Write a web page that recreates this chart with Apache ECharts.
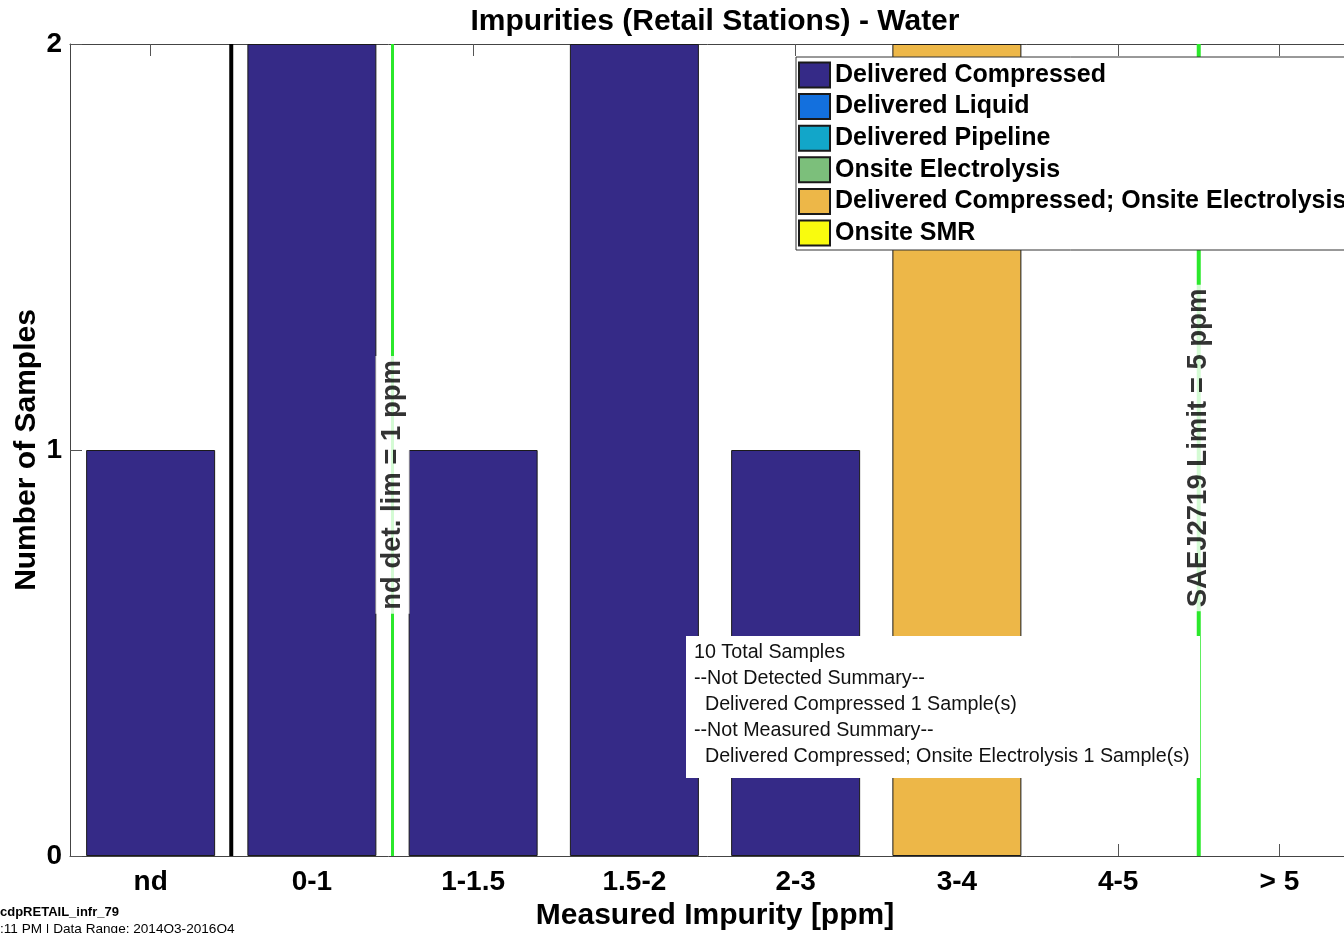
<!DOCTYPE html>
<html><head><meta charset="utf-8">
<script src="https://cdn.jsdelivr.net/npm/echarts@6/dist/echarts.min.js"></script>
<style>html,body{margin:0;padding:0;background:#fff}#c{width:1344px;height:933px}</style>
</head><body><div id="c"></div>
<script>
const categories = ['nd','0-1','1-1.5','1.5-2','2-3','3-4','4-5','> 5'];
const seriesNames = ['Delivered Compressed','Delivered Liquid','Delivered Pipeline','Onsite Electrolysis','Delivered Compressed; Onsite Electrolysis','Onsite SMR'];
const seriesColors = ['#352A87','#1370DE','#12A6C9','#7CBF7B','#EDB748','#F9FB0E'];
const deliveredCompressed = [1,2,1,2,1,0,0,0];
const deliveredLiquid = [0,0,0,0,0,0,0,0];
const deliveredPipeline = [0,0,0,0,0,0,0,0];
const onsiteElectrolysis = [0,0,0,0,0,0,0,0];
const compressedElectrolysis = [0,0,0,0,0,2,0,0];
const onsiteSMR = [0,0,0,0,0,0,0,0];
const yTicks = [0,1,2];
const summaryLines = ['10 Total Samples','--Not Detected Summary--','  Delivered Compressed 1 Sample(s)','--Not Measured Summary--','  Delivered Compressed; Onsite Electrolysis 1 Sample(s)'];
// reference lines: position in category-boundary units (category i centred at i)
const refLines = [
  {x:0.5, color:'#000000', width:4, label:null},
  {x:1.5, color:'#2BE82B', width:3, label:'nd det. lim = 1 ppm', labelY:0.914},
  {x:6.5, color:'#2BE82B', width:4, label:'SAEJ2719 Limit = 5 ppm', labelY:1.005}
];

const allData = [deliveredCompressed,deliveredLiquid,deliveredPipeline,onsiteElectrolysis,compressedElectrolysis,onsiteSMR];
const FONT = 'Liberation Sans, Arial, sans-serif';

const series = [];
seriesNames.forEach((n,i)=>{
  series.push({
    type:'bar', name:n, xAxisIndex:0, yAxisIndex:0,
    barWidth:'80%', barGap:'-100%',
    itemStyle:{color:seriesColors[i], borderColor:'#1a1a1a', borderWidth:1},
    data: allData[i].map(v=> v===0 ? '-' : v),
    z:2
  });
});
refLines.forEach(l=>{
  series.push({
    type:'line', xAxisIndex:2, yAxisIndex:0, symbol:'none', silent:true,
    lineStyle:{color:l.color, width:l.width}, data:[[l.x,yTicks[0]],[l.x,yTicks[yTicks.length-1]]], z:3
  });
  if(l.label){
    series.push({
      type:'scatter', xAxisIndex:2, yAxisIndex:0, symbolSize:0, silent:true, z:4,
      itemStyle:{color:'#fff'},
      data:[[l.x,l.labelY]],
      label:{show:true, position:'inside', rotate:90, formatter:l.label,
        fontFamily:FONT, fontSize:27.5, fontWeight:'bold', color:'#000',
        textBorderWidth:0, textBorderColor:'transparent',
        backgroundColor:'#fff', padding:[4,4,2,4]}
    });
  }
});

const chart = echarts.init(document.getElementById('c'));
chart.setOption({
  animation:false,
  backgroundColor:'#fff',
  grid:{left:70, top:44, height:812, width:1290, outerBoundsMode:'none', containLabel:false},
  legend:{
    orient:'vertical', left:796, top:57, data:seriesNames,
    icon:'rect',
    itemWidth:31, itemHeight:25, itemGap:4.6,
    padding:[4.5,6,3.5,2],
    borderColor:'#333', borderWidth:1, backgroundColor:'#fff',
    textStyle:{fontFamily:FONT, fontSize:25, fontWeight:'bold', color:'#000'},
    z:10
  },
  xAxis:[
    {type:'category', data:categories, position:'bottom',
     axisLine:{onZero:false, lineStyle:{color:'#444', width:1}},
     axisTick:{show:true, inside:true, alignWithLabel:true, length:12, lineStyle:{color:'#555'}},
     axisLabel:{fontFamily:FONT, fontSize:28, fontWeight:'bold', color:'#000', margin:12},
     splitLine:{show:false}},
    {type:'category', data:categories, position:'top',
     axisLine:{onZero:false, lineStyle:{color:'#444', width:1}},
     axisTick:{show:true, inside:true, alignWithLabel:true, length:12, lineStyle:{color:'#555'}},
     axisLabel:{show:false}, splitLine:{show:false}},
    {type:'value', min:-0.5, max:7.5, show:false}
  ],
  yAxis:{type:'value', min:yTicks[0], max:yTicks[yTicks.length-1], interval:1,
    axisLine:{show:true, onZero:false, lineStyle:{color:'#444', width:1}},
    axisTick:{show:true, inside:true, length:12, lineStyle:{color:'#555'}},
    axisLabel:{fontFamily:FONT, fontSize:28, fontWeight:'bold', color:'#000', margin:8},
    splitLine:{show:false}},
  series:series,
  graphic:[
    {type:'text', x:715, y:22, z:20, style:{text:'Impurities (Retail Stations) - Water', font:'bold 30px '+FONT, fill:'#000', textAlign:'center', textVerticalAlign:'middle'}},
    {type:'text', x:715, y:916, z:20, style:{text:'Measured Impurity [ppm]', font:'bold 30px '+FONT, fill:'#000', textAlign:'center', textVerticalAlign:'middle'}},
    {type:'text', x:27, y:450, rotation:Math.PI/2, z:20, style:{text:'Number of Samples', font:'bold 30px '+FONT, fill:'#000', textAlign:'center', textVerticalAlign:'middle'}},
    {type:'rect', shape:{x:686, y:636, width:514, height:142}, z:20, style:{fill:'#fff'}},
    {type:'text', x:694, y:640, z:21, style:{text:summaryLines.join('\n'), font:'19.7px '+FONT, fill:'#111', lineHeight:26, textVerticalAlign:'top'}},
    {type:'text', x:0, y:912, z:20, style:{text:'cdpRETAIL_infr_79', font:'bold 13px '+FONT, fill:'#000', textVerticalAlign:'middle'}},
    {type:'text', x:0, y:929, z:20, style:{text:':11 PM | Data Range: 2014Q3-2016Q4', font:'13.6px '+FONT, fill:'#000', textVerticalAlign:'middle'}}
  ]
});
</script></body></html>
